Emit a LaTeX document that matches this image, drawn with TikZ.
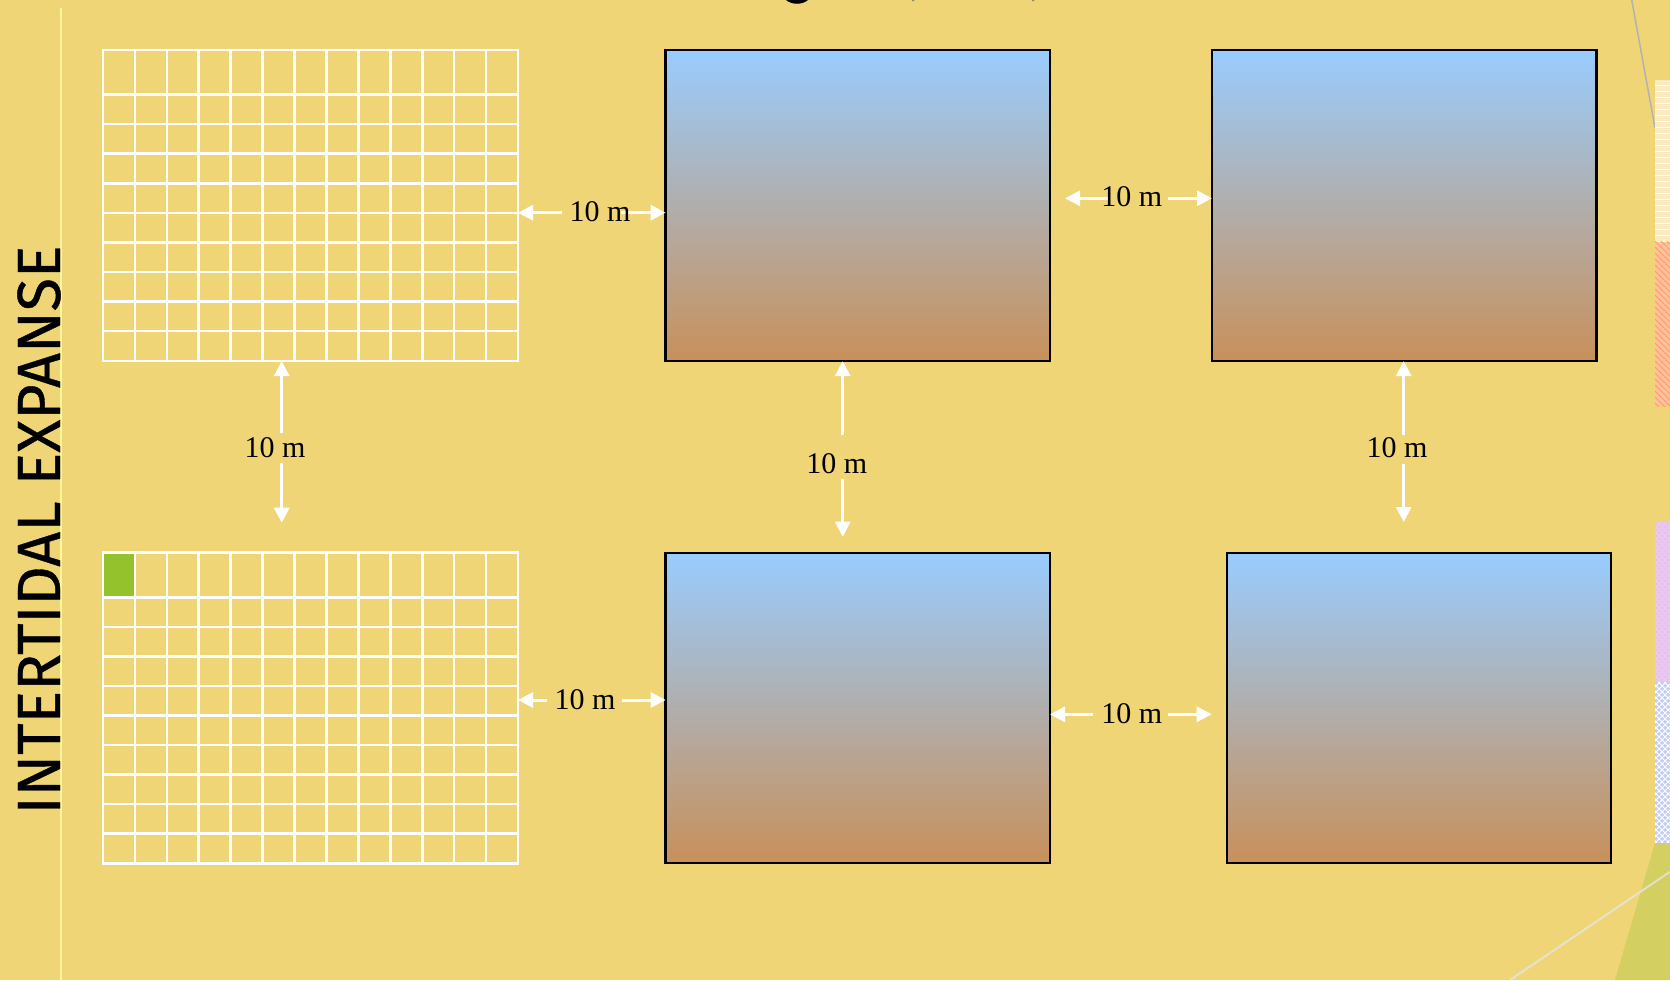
\documentclass[tikz,border=0pt]{standalone}
\usepackage{fontspec}
\setmainfont{Liberation Serif}
\newfontfamily\titlefont[FakeBold=0.6]{Fira Sans}
\usepackage{tikz}
\usepackage{xcolor}
\usetikzlibrary{arrows.meta, positioning, fit, patterns, calc}
\definecolor{Sand_Bg}{HTML}{EFD576}
\definecolor{Pale_Line}{HTML}{FFF8A0}
\definecolor{Sky_Top}{HTML}{99CCFF}
\definecolor{Haze_Mid}{HTML}{B3ADBA}
\definecolor{Mud_Bottom}{HTML}{C8905A}
\definecolor{Cell_Green}{HTML}{93C22C}
\definecolor{Olive_Corner}{HTML}{D3CF60}
\definecolor{Cream_Strip}{HTML}{FBEBC0}
\definecolor{Salmon_Strip}{HTML}{FFC29C}
\definecolor{Salmon_Line}{HTML}{FF9A70}
\definecolor{Lilac_Strip}{HTML}{E6C8F0}
\definecolor{Lilac_Dot}{HTML}{F4B4E4}
\definecolor{Blue_Strip}{HTML}{C4CCF6}

\begin{document}
\begin{tikzpicture}[x=0.5pt, y=-0.5pt,
    gridframe/.style={draw=white, line width=1.3pt, inner sep=0pt, outer sep=0pt},
    tidebox/.style={draw=black, line width=1.2pt, top color=Sky_Top, middle color=Haze_Mid, bottom color=Mud_Bottom, inner sep=0pt, outer sep=0pt},
    dimlabel/.style={font=\fontsize{15}{18}\selectfont, inner sep=1pt},
    dimarrow/.style={draw=white, line width=1.5pt, -{Triangle[width=7.5pt, length=7.5pt]}}]
    \useasboundingbox (0,0) rectangle (1670,980);
    \fill[Sand_Bg] (0,0) rectangle (1670,980);
    % side strip and corner
    \draw[Pale_Line, line width=1pt] (60.7,8) -- (60.7,980);
    \draw[gray!60, line width=0.75pt] (1631.7,0) -- (1655,128);
    \fill[Cream_Strip] (1655,80) rectangle (1670,241.7);
    \fill[pattern=horizontal lines, pattern color=white] (1655,80) rectangle (1670,241.7);
    \fill[Salmon_Strip] (1655,241.7) rectangle (1670,406);
    \fill[pattern=north west lines, pattern color=Salmon_Line] (1655,241.7) rectangle (1670,406);
    \fill[Lilac_Strip] (1655,521.7) rectangle (1670,682);
    \fill[pattern=crosshatch dots, pattern color=Lilac_Dot] (1655,521.7) rectangle (1670,682);
    \fill[Blue_Strip] (1655,682) rectangle (1670,843);
    \fill[pattern=crosshatch, pattern color=white] (1655,682) rectangle (1670,843);
    \fill[Olive_Corner] (1655,843) -- (1670,843) -- (1670,980) -- (1615,980) -- cycle;
    \draw[white!80!gray, opacity=0.8, line width=1pt] (1510,980) -- (1670,871.7);
    % bits of the title above the page
    \fill[black] (786,0) .. controls (792,5) and (802,5) .. (808,0) -- cycle;
    \fill[gray] (913,0) circle (1.5);
    \fill[gray] (1033,0) circle (1.5);

    \node[rotate=90, font=\titlefont\fontsize{30.5}{32}\selectfont, inner sep=0pt] (title) at (39,530) {INTERTIDAL EXPANSE};

    % quadrat grids
    \fill[Cell_Green] (103,552.7) rectangle (134.9,597.3);
    \foreach \gy/\gname in {50/gridA, 552.7/gridD} {
        \foreach \k in {1,...,12}
            \draw[white, line width=1.3pt] (103+\k*31.92, \gy) -- (103+\k*31.92, \gy+311);
        \foreach \k in {0,...,8}
            \draw[white, line width=1.3pt] (103, \gy+44.6+\k*29.55) -- (518, \gy+44.6+\k*29.55);
        \node[gridframe, fit={(103,\gy) (518,\gy+311)}] (\gname) {};
    }

    % shore plots
    \node[tidebox, fit={(665.6,50) (1050,361)}] (boxB) {};
    \node[tidebox, fit={(1212,50) (1596.4,361)}] (boxC) {};
    \node[tidebox, fit={(665.6,552.7) (1050,862.7)}] (boxE) {};
    \node[tidebox, fit={(1227,552.7) (1611,862.7)}] (boxF) {};

    % spacing arrows
    \coordinate (ab1) at (561.7,212.7);
    \coordinate (ab2) at (621,212.7);
    \coordinate (bc1) at (1108,198.3);
    \coordinate (bc2) at (1065,198.3);
    \coordinate (bc3) at (1168,198.3);
    \coordinate (de1) at (547,700);
    \coordinate (de2) at (622,700);
    \coordinate (ef1) at (1093.3,714.3);
    \coordinate (ef2) at (1168.3,714.3);
    \coordinate (ef3) at (1211.7,714.3);
    \coordinate (ad1) at (281.7,433.3);
    \coordinate (ad2) at (281.7,463.3);
    \coordinate (ad3) at (281.7,522.7);
    \coordinate (be1) at (842.7,435);
    \coordinate (be2) at (842.7,479);
    \coordinate (be3) at (842.7,536.7);
    \coordinate (cf1) at (1403.7,434.5);
    \coordinate (cf2) at (1403.7,464);
    \coordinate (cf3) at (1403.7,522);

    \draw[dimarrow] (ab1) -- (ab1 -| gridA.east);
    \draw[dimarrow] (ab2) -- (ab2 -| boxB.west);
    \draw[dimarrow] (bc1) -- (bc2);
    \draw[dimarrow] (bc3) -- (bc3 -| boxC.west);
    \draw[dimarrow] (de1) -- (de1 -| gridD.east);
    \draw[dimarrow] (de2) -- (de2 -| boxE.west);
    \draw[dimarrow] (ef1) -- (ef1 -| boxE.east);
    \draw[dimarrow] (ef2) -- (ef3);
    \draw[dimarrow] (ad1) -- (ad1 |- gridA.south);
    \draw[dimarrow] (ad2) -- (ad3);
    \draw[dimarrow] (be1) -- (be1 |- boxB.south);
    \draw[dimarrow] (be2) -- (be3);
    \draw[dimarrow] (cf1) -- (cf1 |- boxC.south);
    \draw[dimarrow] (cf2) -- (cf3);

    \node[dimlabel] (lblAB) at (600,212) {10 m};
    \node[dimlabel] (lblBC) at (1131.7,197) {10 m};
    \node[dimlabel] (lblDE) at (585,700) {10 m};
    \node[dimlabel] (lblEF) at (1131.7,714) {10 m};
    \node[dimlabel] (lblAD) at (275,448) {10 m};
    \node[dimlabel] (lblBE) at (836.7,463.7) {10 m};
    \node[dimlabel] (lblCF) at (1397,448) {10 m};
\end{tikzpicture}
\end{document}
